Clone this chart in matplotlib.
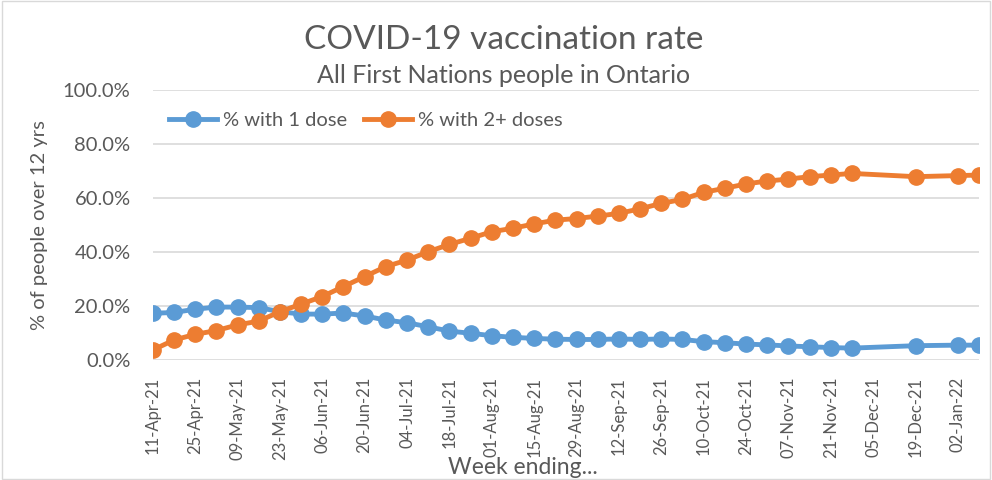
import matplotlib
matplotlib.use('Agg')
import matplotlib.pyplot as plt
import matplotlib.dates as mdates
import matplotlib.ticker as mticker
import pandas as pd

plt.rcParams['font.family'] = ['Lato', 'DejaVu Sans']

# week ending dates (05-Dec and 12-Dec missing in the source)
weeks = ['2021-04-11', '2021-04-18', '2021-04-25', '2021-05-02', '2021-05-09', '2021-05-16',
         '2021-05-23', '2021-05-30', '2021-06-06', '2021-06-13', '2021-06-20', '2021-06-27',
         '2021-07-04', '2021-07-11', '2021-07-18', '2021-07-25', '2021-08-01', '2021-08-08',
         '2021-08-15', '2021-08-22', '2021-08-29', '2021-09-05', '2021-09-12', '2021-09-19',
         '2021-09-26', '2021-10-03', '2021-10-10', '2021-10-17', '2021-10-24', '2021-10-31',
         '2021-11-07', '2021-11-14', '2021-11-21', '2021-11-28', '2021-12-19', '2022-01-02',
         '2022-01-09']
one_dose = [17.3, 17.6, 18.8, 19.6, 19.6, 19.4, 17.9, 17.0, 17.0, 17.4, 16.3, 14.8, 13.8,
            12.3, 10.7, 9.9, 9.0, 8.4, 8.0, 7.7, 7.6, 7.6, 7.8, 7.6, 7.8, 7.6, 6.8, 6.4,
            5.9, 5.6, 5.2, 4.9, 4.6, 4.4, 5.3, 5.5, 5.5]
two_doses = [3.7, 7.4, 9.5, 10.9, 13.0, 14.4, 17.9, 20.7, 23.5, 27.2, 30.9, 34.6, 37.0,
             40.1, 42.8, 45.1, 47.5, 48.8, 50.4, 51.8, 52.4, 53.3, 54.3, 56.0, 58.0, 59.5,
             62.1, 63.6, 65.2, 66.3, 67.0, 67.9, 68.5, 69.1, 67.9, 68.3, 68.5]

x = pd.to_datetime(weeks)
grey = '#595959'

fig = plt.figure(figsize=(9.92, 4.8), dpi=100)
ax = fig.add_axes([0.154, 0.25, 0.833, 0.5625])

ax.plot(x, one_dose, color='#5B9BD5', lw=3.5, marker='o', ms=11, label='% with 1 dose', zorder=3)
ax.plot(x, two_doses, color='#ED7D31', lw=3.5, marker='o', ms=11, label='% with 2+ doses', zorder=3)

ax.set_xlim(x[0], x[-1])
ax.set_ylim(0, 100)
ax.yaxis.set_major_locator(mticker.MultipleLocator(20))
ax.yaxis.set_major_formatter(mticker.FuncFormatter(lambda v, p: '%.1f%%' % v))
ticks = pd.date_range('2021-04-11', '2022-01-02', freq='14D')
ax.set_xticks(ticks)
ax.xaxis.set_major_formatter(mdates.DateFormatter('%d-%b-%y'))
plt.setp(ax.get_xticklabels(), rotation=90)
ax.tick_params(axis='both', length=0, colors=grey)
ax.tick_params(axis='y', labelsize=14.5, pad=16)
ax.tick_params(axis='x', labelsize=12, pad=12)
ax.grid(axis='y', color='#D9D9D9', lw=1.2)
ax.set_axisbelow(True)
for s in ax.spines.values():
    s.set_visible(False)

ax.set_ylabel('% of people over 12 yrs', fontsize=14.5, color=grey)
ax.yaxis.set_label_coords(-0.127, 0.5)
fig.text(0.527, 0.012, 'Week ending...', fontsize=16.5, color=grey, ha='center')

fig.text(0.508, 0.917, 'COVID-19 vaccination rate', fontsize=24, color=grey,
         ha='center', va='center')
fig.text(0.508, 0.843, 'All First Nations people in Ontario', fontsize=18, color=grey,
         ha='center', va='center')

ax.legend(loc='upper left', bbox_to_anchor=(0.01, 0.95), ncol=2, frameon=False, fontsize=14.5,
          labelcolor=grey, handlelength=2.4, columnspacing=0.8, handletextpad=0.3,
          borderaxespad=0)

fig.patches.append(plt.Rectangle((0.002, 0.003), 0.996, 0.994, transform=fig.transFigure,
                                 fill=False, edgecolor='#D9D9D9', lw=1))

fig.savefig('out.png', dpi=100)
